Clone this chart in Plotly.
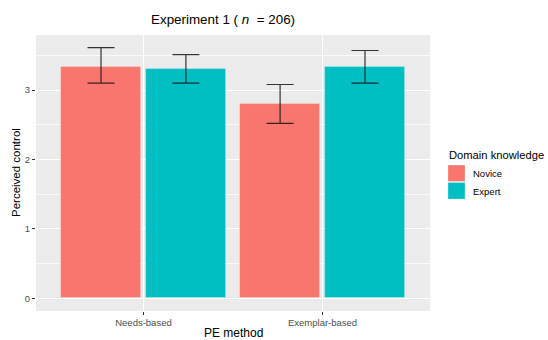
import plotly.graph_objects as go

categories = ["Needs-based", "Exemplar-based"]
groups = ["Novice", "Expert"]
means = {"Novice": [3.33, 2.80], "Expert": [3.31, 3.33]}
upper = {"Novice": [3.61, 3.08], "Expert": [3.51, 3.57]}
lower = {"Novice": [3.10, 2.52], "Expert": [3.10, 3.10]}
colors = {"Novice": "#F8766D", "Expert": "#00BFC4"}
y_ticks = [0, 1, 2, 3]

W, H = 548, 340
L, R, T, B = 36, 430, 35, 311


def px(xp):
    return (xp - L) / (R - L)


def py(yp):
    return (B - yp) / (B - T)


fig = go.Figure()
xpos = [1, 2]
offsets = {"Novice": -0.462, "Expert": 0.012}
for g in groups:
    m = means[g]
    fig.add_trace(go.Bar(
        x=xpos, y=m, name=g, width=0.45, offset=offsets[g],
        marker=dict(color=colors[g], line=dict(color="rgba(255,255,255,0.35)", width=0.8)),
        showlegend=False,
    ))
    fig.add_trace(go.Scatter(
        x=[x + offsets[g] + 0.225 for x in xpos], y=m, mode="markers",
        marker=dict(size=0.1, color="rgba(0,0,0,0)"),
        error_y=dict(type="data", symmetric=False,
                     array=[u - v for u, v in zip(upper[g], m)],
                     arrayminus=[v - l for v, l in zip(m, lower[g])],
                     color="rgba(20,20,20,0.85)", thickness=1.2, width=13.5),
        showlegend=False, hoverinfo="skip",
    ))

fig.update_layout(
    width=W, height=H,
    margin=dict(l=L, r=W - R, t=T, b=H - B, pad=0),
    paper_bgcolor="white", plot_bgcolor="#EBEBEB",
    font=dict(family="Liberation Sans, Arial, sans-serif", color="#4D4D4D", size=9),
    bargap=0, barmode="overlay",
    xaxis=dict(range=[0.4, 2.6], tickvals=xpos, ticktext=categories,
               showgrid=True, gridcolor="white", gridwidth=1.1,
               ticks="outside", ticklen=3, tickcolor="#333333", tickwidth=1,
               zeroline=False, showline=False, tickfont=dict(size=9.5, color="#4D4D4D")),
    yaxis=dict(range=[-0.183, 3.793], tickvals=y_ticks,
               showgrid=True, gridcolor="white", gridwidth=1.1,
               minor=dict(dtick=0.5, tick0=0.5, showgrid=True, gridcolor="#FAFAFA", gridwidth=0.7),
               ticks="outside", ticklen=3, tickcolor="#333333", tickwidth=1,
               zeroline=False, showline=False, tickfont=dict(size=9.5, color="#4D4D4D")),
)

ann = []
ann.append(dict(text="Experiment 1 ( <i>n</i>&nbsp; = 206)", x=px(222.5), y=py(19.5),
                xref="paper", yref="paper", showarrow=False, xanchor="center", yanchor="middle",
                font=dict(size=13.4, color="black")))
ann.append(dict(text="PE method", x=px((L + R) / 2), y=py(333),
                xref="paper", yref="paper", showarrow=False, xanchor="center", yanchor="middle",
                font=dict(size=12, color="black")))
ann.append(dict(text="Perceived control", x=px(16), y=py(173),
                xref="paper", yref="paper", showarrow=False, xanchor="center", yanchor="middle",
                textangle=-90, font=dict(size=11.5, color="black")))
ann.append(dict(text="Domain knowledge", x=px(447), y=py(155),
                xref="paper", yref="paper", showarrow=False, xanchor="left", yanchor="middle",
                font=dict(size=11.2, color="black")))

shapes = []
key_top = 165
for i, g in enumerate(groups):
    y0 = key_top + i * 17.5
    shapes.append(dict(type="rect", xref="paper", yref="paper",
                       x0=px(448), x1=px(465),
                       y0=py(y0), y1=py(y0 + 16.5),
                       fillcolor=colors[g], line=dict(color="rgba(255,255,255,0.35)", width=0.8)))
    ann.append(dict(text=g, x=px(471), y=py(y0 + 8.5),
                    xref="paper", yref="paper", showarrow=False, xanchor="left", yanchor="middle",
                    font=dict(size=9.5, color="black")))

fig.update_layout(annotations=ann, shapes=shapes)
fig.write_html("out.html", config={"displayModeBar": False},
               post_script="document.body.style.margin='0';document.body.style.overflow='hidden';")
